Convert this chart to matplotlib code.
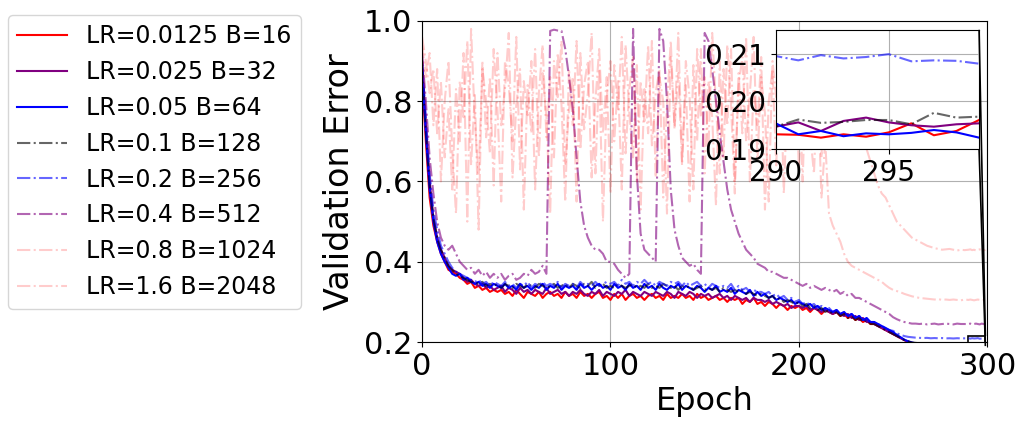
import matplotlib
matplotlib.use("Agg")
import matplotlib.pyplot as plt
from matplotlib.ticker import FormatStrFormatter
from mpl_toolkits.axes_grid1.inset_locator import mark_inset

# epochs: every 2nd epoch up to 288, then every epoch in the zoomed window
epochs = list(range(0, 290, 2)) + list(range(290, 300))

labels = ["LR=0.0125 B=16", "LR=0.025 B=32", "LR=0.05 B=64", "LR=0.1 B=128",
          "LR=0.2 B=256", "LR=0.4 B=512", "LR=0.8 B=1024", "LR=1.6 B=2048"]

err_b16 = [
    0.86, 0.70, 0.56, 0.49, 0.45, 0.42, 0.40, 0.38, 0.375, 0.37,
    0.36, 0.355, 0.345, 0.35, 0.335, 0.34, 0.33, 0.335, 0.325, 0.33,
    0.325, 0.33, 0.32, 0.325, 0.315, 0.33, 0.32, 0.31, 0.325, 0.32,
    0.315, 0.325, 0.31, 0.32, 0.325, 0.315, 0.32, 0.31, 0.325, 0.315,
    0.32, 0.31, 0.325, 0.315, 0.32, 0.31, 0.32, 0.325, 0.31, 0.315,
    0.305, 0.32, 0.31, 0.32, 0.305, 0.315, 0.32, 0.31, 0.315, 0.305,
    0.315, 0.32, 0.31, 0.315, 0.305, 0.32, 0.31, 0.315, 0.31, 0.32,
    0.31, 0.315, 0.305, 0.32, 0.31, 0.315, 0.305, 0.31, 0.315, 0.305,
    0.31, 0.30, 0.31, 0.305, 0.31, 0.295, 0.305, 0.30, 0.31, 0.295,
    0.30, 0.29, 0.30, 0.295, 0.285, 0.295, 0.29, 0.28, 0.29, 0.285,
    0.29, 0.28, 0.285, 0.275, 0.285, 0.28, 0.27, 0.28, 0.275, 0.27,
    0.275, 0.265, 0.27, 0.26, 0.265, 0.255, 0.26, 0.25, 0.255, 0.245,
    0.245, 0.24, 0.235, 0.23, 0.225, 0.22, 0.215, 0.21, 0.205, 0.20,
    0.197, 0.196, 0.195, 0.195, 0.194, 0.194, 0.1935, 0.194, 0.1935, 0.193,
    0.1935, 0.193, 0.1935, 0.193, 0.1932,
    0.1931, 0.1930, 0.1924, 0.1931, 0.1926, 0.1935, 0.1954, 0.1929, 0.1938, 0.1961]

err_b32 = [
    0.90, 0.74, 0.60, 0.51, 0.46, 0.43, 0.41, 0.39, 0.38, 0.375,
    0.37, 0.36, 0.35, 0.355, 0.345, 0.34, 0.345, 0.335, 0.34, 0.33,
    0.335, 0.34, 0.325, 0.335, 0.33, 0.32, 0.335, 0.325, 0.33, 0.32,
    0.33, 0.325, 0.32, 0.335, 0.32, 0.325, 0.33, 0.32, 0.325, 0.315,
    0.325, 0.32, 0.33, 0.32, 0.315, 0.325, 0.32, 0.33, 0.315, 0.325,
    0.32, 0.315, 0.325, 0.32, 0.33, 0.315, 0.325, 0.32, 0.315, 0.325,
    0.32, 0.315, 0.325, 0.32, 0.315, 0.325, 0.32, 0.31, 0.325, 0.32,
    0.315, 0.325, 0.32, 0.31, 0.32, 0.315, 0.32, 0.31, 0.315, 0.32,
    0.31, 0.315, 0.305, 0.315, 0.31, 0.305, 0.31, 0.30, 0.31, 0.305,
    0.305, 0.30, 0.305, 0.295, 0.30, 0.295, 0.29, 0.295, 0.285, 0.29,
    0.29, 0.285, 0.29, 0.28, 0.285, 0.28, 0.275, 0.28, 0.275, 0.27,
    0.275, 0.27, 0.265, 0.27, 0.26, 0.265, 0.255, 0.26, 0.25, 0.25,
    0.245, 0.24, 0.235, 0.23, 0.225, 0.22, 0.215, 0.21, 0.205, 0.201,
    0.198, 0.197, 0.196, 0.196, 0.195, 0.195, 0.1955, 0.195, 0.1945, 0.195,
    0.1945, 0.195, 0.1948, 0.195, 0.1946,
    0.1947, 0.1956, 0.1938, 0.1959, 0.1966, 0.1956, 0.1950, 0.1947, 0.1952, 0.1954]

err_b64 = [
    0.88, 0.72, 0.58, 0.50, 0.45, 0.42, 0.40, 0.385, 0.37, 0.365,
    0.37, 0.355, 0.36, 0.35, 0.345, 0.35, 0.34, 0.345, 0.335, 0.345,
    0.34, 0.335, 0.345, 0.335, 0.34, 0.33, 0.345, 0.335, 0.34, 0.33,
    0.34, 0.335, 0.345, 0.33, 0.34, 0.335, 0.345, 0.33, 0.34, 0.335,
    0.34, 0.33, 0.345, 0.335, 0.34, 0.33, 0.34, 0.345, 0.335, 0.34,
    0.33, 0.345, 0.335, 0.34, 0.33, 0.345, 0.335, 0.34, 0.33, 0.345,
    0.335, 0.34, 0.33, 0.345, 0.335, 0.33, 0.34, 0.335, 0.345, 0.33,
    0.34, 0.335, 0.33, 0.34, 0.335, 0.325, 0.335, 0.33, 0.34, 0.325,
    0.33, 0.325, 0.335, 0.32, 0.33, 0.325, 0.32, 0.33, 0.315, 0.325,
    0.315, 0.32, 0.31, 0.315, 0.305, 0.31, 0.305, 0.30, 0.305, 0.295,
    0.30, 0.295, 0.29, 0.295, 0.285, 0.29, 0.28, 0.285, 0.28, 0.275,
    0.28, 0.27, 0.275, 0.265, 0.27, 0.26, 0.265, 0.255, 0.26, 0.25,
    0.25, 0.245, 0.24, 0.235, 0.23, 0.225, 0.218, 0.212, 0.206, 0.202,
    0.199, 0.197, 0.196, 0.1955, 0.195, 0.1955, 0.195, 0.1948, 0.195, 0.1945,
    0.195, 0.1948, 0.1952, 0.1949, 0.195,
    0.1954, 0.1931, 0.1938, 0.1927, 0.1933, 0.1931, 0.1934, 0.1940, 0.1935, 0.1924]

err_b128 = [
    0.89, 0.73, 0.59, 0.51, 0.46, 0.43, 0.41, 0.39, 0.38, 0.37,
    0.365, 0.36, 0.355, 0.35, 0.35, 0.345, 0.35, 0.34, 0.345, 0.34,
    0.345, 0.335, 0.345, 0.34, 0.335, 0.345, 0.34, 0.335, 0.345, 0.34,
    0.335, 0.345, 0.34, 0.335, 0.34, 0.345, 0.335, 0.34, 0.345, 0.335,
    0.345, 0.34, 0.335, 0.345, 0.34, 0.35, 0.335, 0.34, 0.345, 0.335,
    0.34, 0.335, 0.345, 0.34, 0.335, 0.34, 0.345, 0.335, 0.34, 0.335,
    0.345, 0.335, 0.34, 0.335, 0.345, 0.34, 0.335, 0.34, 0.33, 0.34,
    0.335, 0.34, 0.33, 0.335, 0.34, 0.33, 0.335, 0.33, 0.335, 0.325,
    0.335, 0.33, 0.325, 0.33, 0.325, 0.33, 0.32, 0.325, 0.32, 0.315,
    0.32, 0.315, 0.31, 0.315, 0.305, 0.31, 0.30, 0.305, 0.30, 0.295,
    0.30, 0.29, 0.295, 0.285, 0.29, 0.28, 0.285, 0.275, 0.28, 0.27,
    0.275, 0.265, 0.27, 0.26, 0.265, 0.255, 0.26, 0.25, 0.255, 0.245,
    0.245, 0.24, 0.235, 0.23, 0.225, 0.22, 0.215, 0.21, 0.205, 0.202,
    0.199, 0.198, 0.197, 0.1965, 0.196, 0.1965, 0.196, 0.1955, 0.196, 0.1955,
    0.196, 0.1955, 0.196, 0.1952, 0.1955,
    0.1947, 0.1962, 0.1955, 0.1957, 0.1961, 0.1961, 0.1952, 0.1976, 0.1966, 0.1968]

err_b256 = [
    0.90, 0.76, 0.62, 0.53, 0.48, 0.44, 0.42, 0.40, 0.385, 0.375,
    0.37, 0.365, 0.36, 0.355, 0.35, 0.355, 0.345, 0.35, 0.34, 0.35,
    0.345, 0.34, 0.35, 0.34, 0.345, 0.335, 0.345, 0.34, 0.35, 0.335,
    0.345, 0.34, 0.35, 0.34, 0.345, 0.34, 0.35, 0.335, 0.345, 0.34,
    0.345, 0.335, 0.35, 0.34, 0.345, 0.34, 0.35, 0.34, 0.345, 0.35,
    0.345, 0.35, 0.34, 0.355, 0.345, 0.35, 0.34, 0.35, 0.345, 0.355,
    0.345, 0.35, 0.34, 0.35, 0.345, 0.34, 0.35, 0.345, 0.35, 0.34,
    0.35, 0.34, 0.345, 0.35, 0.34, 0.345, 0.335, 0.345, 0.34, 0.335,
    0.34, 0.335, 0.345, 0.33, 0.34, 0.33, 0.335, 0.325, 0.33, 0.325,
    0.325, 0.32, 0.325, 0.315, 0.32, 0.31, 0.315, 0.305, 0.31, 0.30,
    0.305, 0.295, 0.30, 0.29, 0.295, 0.285, 0.29, 0.28, 0.285, 0.275,
    0.28, 0.27, 0.275, 0.265, 0.27, 0.26, 0.265, 0.255, 0.255, 0.25,
    0.25, 0.245, 0.24, 0.235, 0.23, 0.228, 0.222, 0.218, 0.215, 0.213,
    0.212, 0.211, 0.2105, 0.21, 0.2105, 0.2095, 0.21, 0.2095, 0.21, 0.2092,
    0.2095, 0.209, 0.2096, 0.2092, 0.2094,
    0.2095, 0.2086, 0.2097, 0.2090, 0.2093, 0.2099, 0.2084, 0.2086, 0.2085, 0.2079]

err_b512 = [
    0.92, 0.80, 0.66, 0.57, 0.50, 0.46, 0.44, 0.43, 0.44, 0.42,
    0.40, 0.39, 0.38, 0.385, 0.37, 0.38, 0.365, 0.375, 0.36, 0.37,
    0.36, 0.37, 0.355, 0.365, 0.37, 0.355, 0.36, 0.37, 0.365, 0.38,
    0.37, 0.375, 0.39, 0.37, 0.975, 0.978, 0.976, 0.975, 0.93, 0.86,
    0.78, 0.66, 0.55, 0.49, 0.46, 0.44, 0.43, 0.43, 0.42, 0.40,
    0.40, 0.395, 0.38, 0.37, 0.36, 0.37, 0.98, 0.62, 0.47, 0.43,
    0.42, 0.41, 0.40, 0.98, 0.95, 0.80, 0.58, 0.48, 0.44, 0.41,
    0.40, 0.39, 0.395, 0.38, 0.37, 0.97, 0.95, 0.88, 0.80, 0.72,
    0.65, 0.58, 0.53, 0.50, 0.47, 0.45, 0.43, 0.42, 0.41, 0.395,
    0.39, 0.385, 0.375, 0.375, 0.37, 0.365, 0.36, 0.36, 0.355, 0.35,
    0.345, 0.34, 0.345, 0.335, 0.34, 0.335, 0.33, 0.335, 0.33, 0.325,
    0.33, 0.32, 0.325, 0.315, 0.32, 0.31, 0.31, 0.305, 0.30, 0.295,
    0.29, 0.285, 0.28, 0.275, 0.27, 0.262, 0.257, 0.253, 0.25, 0.248,
    0.246, 0.246, 0.245, 0.246, 0.244, 0.245, 0.246, 0.244, 0.245, 0.246,
    0.245, 0.244, 0.246, 0.245, 0.245,
    0.245, 0.246, 0.244, 0.245, 0.246, 0.245, 0.244, 0.246, 0.245, 0.245]

err_b1024 = [
    0.94, 0.86, 0.92, 0.74, 0.88, 0.60, 0.80, 0.90, 0.68, 0.52,
    0.85, 0.76, 0.95, 0.64, 0.82, 0.48, 0.90, 0.71, 0.86, 0.59,
    0.92, 0.74, 0.83, 0.97, 0.61, 0.79, 0.88, 0.53, 0.84, 0.72,
    0.93, 0.66, 0.87, 0.76, 0.52, 0.90, 0.81, 0.95, 0.64, 0.78,
    0.86, 0.55, 0.92, 0.73, 0.82, 0.97, 0.62, 0.88, 0.50, 0.81,
    0.90, 0.70, 0.85, 0.58, 0.94, 0.77, 0.66, 0.89, 0.53, 0.83,
    0.72, 0.95, 0.61, 0.86, 0.80, 0.52, 0.91, 0.74, 0.97, 0.65,
    0.84, 0.55, 0.89, 0.70, 0.93, 0.62, 0.85, 0.76, 0.54, 0.90,
    0.66, 0.94, 0.79, 0.57, 0.87, 0.72, 0.96, 0.60, 0.83, 0.74,
    0.91, 0.53, 0.80, 0.88, 0.64, 0.93, 0.57, 0.82, 0.95, 0.69,
    0.86, 0.60, 0.90, 0.72, 0.62, 0.84, 0.56, 0.70, 0.52, 0.49,
    0.47, 0.45, 0.42, 0.40, 0.39, 0.385, 0.38, 0.375, 0.37, 0.365,
    0.36, 0.355, 0.35, 0.342, 0.335, 0.33, 0.327, 0.324, 0.32, 0.317,
    0.314, 0.312, 0.31, 0.309, 0.308, 0.307, 0.306, 0.307, 0.305, 0.306,
    0.305, 0.306, 0.305, 0.304, 0.306,
    0.305, 0.306, 0.305, 0.304, 0.305, 0.306, 0.305, 0.304, 0.305, 0.306]

err_b2048 = [
    0.96, 0.90, 0.82, 0.88, 0.72, 0.85, 0.66, 0.78, 0.58, 0.83,
    0.70, 0.92, 0.50, 0.98, 0.75, 0.62, 0.88, 0.80, 0.67, 0.93,
    0.78, 0.55, 0.90, 0.84, 0.70, 0.96, 0.63, 0.85, 0.76, 0.90,
    0.58, 0.82, 0.94, 0.71, 0.86, 0.66, 0.92, 0.79, 0.55, 0.88,
    0.74, 0.95, 0.68, 0.84, 0.90, 0.61, 0.80, 0.93, 0.72, 0.86,
    0.57, 0.89, 0.78, 0.96, 0.67, 0.83, 0.91, 0.60, 0.85, 0.75,
    0.94, 0.69, 0.82, 0.88, 0.56, 0.79, 0.95, 0.73, 0.87, 0.64,
    0.90, 0.81, 0.58, 0.93, 0.76, 0.86, 0.68, 0.97, 0.79, 0.62,
    0.88, 0.74, 0.93, 0.60, 0.84, 0.91, 0.70, 0.82, 0.96, 0.65,
    0.86, 0.77, 0.55, 0.90, 0.81, 0.94, 0.68, 0.85, 0.75, 0.92,
    0.63, 0.88, 0.80, 0.95, 0.72, 0.86, 0.66, 0.91, 0.78, 0.84,
    0.74, 0.93, 0.70, 0.85, 0.80, 0.90, 0.78, 0.72, 0.68, 0.65,
    0.62, 0.59, 0.57, 0.56, 0.54, 0.52, 0.50, 0.49, 0.48, 0.47,
    0.46, 0.455, 0.45, 0.445, 0.44, 0.437, 0.434, 0.432, 0.43, 0.431,
    0.432, 0.43, 0.428, 0.43, 0.429,
    0.43, 0.431, 0.429, 0.43, 0.428, 0.43, 0.431, 0.429, 0.428, 0.43]

series = [err_b16, err_b32, err_b64, err_b128, err_b256, err_b512, err_b1024, err_b2048]

# (color, linestyle, alpha) per run
styles = [("red", "-", 1.0), ("purple", "-", 1.0), ("blue", "-", 1.0),
          ("black", "-.", 0.6), ("blue", "-.", 0.6), ("purple", "-.", 0.6),
          ("red", "-.", 0.2), ("red", "-.", 0.2)]

fig = plt.figure(figsize=(10.22, 4.26), dpi=100)
ax = fig.add_axes([0.413, 0.197, 0.553, 0.754])

for vals, lab, (c, ls, a) in zip(series, labels, styles):
    ax.plot(epochs, vals, color=c, linestyle=ls, alpha=a, lw=1.5, label=lab)

ax.set_xlim(0, 300)
ax.set_ylim(0.2, 1.0)
ax.set_xticks([0, 100, 200, 300])
ax.set_yticks([0.2, 0.4, 0.6, 0.8, 1.0])
ax.tick_params(labelsize=22)
ax.grid(True)
ax.set_xlabel("Epoch", fontsize=23)
ax.set_ylabel("Validation Error", fontsize=24, labelpad=6)

fig.legend(loc="upper left", bbox_to_anchor=(8 / 1022, 1 - 15 / 426),
           borderaxespad=0, fontsize=17, labelspacing=0.5, handlelength=2.1)

# zoomed inset on the last epochs
axins = fig.add_axes([0.759, 0.650, 0.199, 0.280])
for vals, (c, ls, a) in zip(series, styles):
    axins.plot(epochs, vals, color=c, linestyle=ls, alpha=a, lw=1.5)
axins.set_xlim(290, 299)
axins.set_ylim(0.19, 0.215)
axins.set_xticks([290, 295])
axins.set_yticks([0.19, 0.20, 0.21])
axins.yaxis.set_major_formatter(FormatStrFormatter("%.2f"))
axins.tick_params(labelsize=20)
axins.grid(True)
mark_inset(ax, axins, loc1=1, loc2=4, fc="none", ec="black", lw=1.2)

fig.savefig("out.png", dpi=100)
